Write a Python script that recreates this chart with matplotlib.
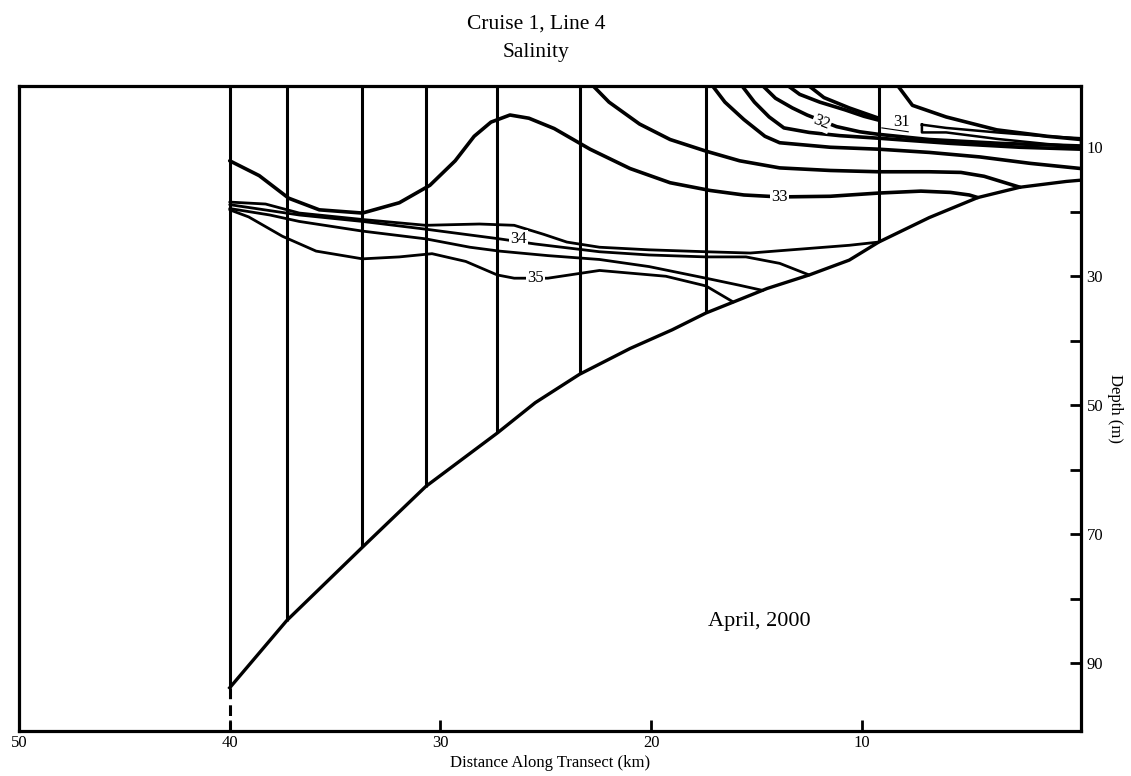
import numpy as np
import matplotlib.pyplot as plt

plt.rcParams.update({'font.family': 'Liberation Serif', 'font.size': 12})

# CTD casts along the line (km from shore)
station_km = [40.0, 37.3, 33.7, 30.7, 27.3, 23.4, 17.4, 9.2]

# bottom profile
bottom_km = [40.0, 37.3, 33.7, 30.7, 27.3, 25.5, 23.4, 21.0, 19.0, 17.4, 16.1,
             14.5, 12.5, 10.6, 9.2, 6.8, 4.5, 2.5, 0.3, -0.4]
bottom_m = [93.8, 83.4, 72.0, 62.6, 54.3, 49.6, 45.2, 41.2, 38.3, 35.7, 34.0,
            31.9, 29.8, 27.5, 24.7, 20.9, 17.8, 16.2, 15.3, 15.1]

# salinity isolines (km, depth m)
iso33_km = [40.0, 38.6, 37.2, 35.75, 33.7, 31.95, 30.5, 29.3, 28.4, 27.6, 26.7,
            25.8, 24.6, 22.9, 21.0, 19.1, 17.2, 15.6, 13.9, 11.5, 9.2, 7.2, 5.8,
            4.9, 4.5]
iso33_m = [12.1, 14.4, 17.9, 19.7, 20.2, 18.6, 15.9, 12.1, 8.3, 6.1, 5.0,
           5.5, 7.1, 10.3, 13.3, 15.5, 16.7, 17.4, 17.7, 17.6, 17.1, 16.8, 17.0,
           17.4, 17.8]

iso34a_km = [40.0, 38.3, 36.7, 33.7, 30.7, 28.15, 26.5, 25.1, 24.0, 22.45,
             20.1, 17.4, 15.3, 12.95, 10.6, 9.2]
iso34a_m = [18.5, 18.8, 20.2, 21.2, 22.1, 21.9, 22.1, 23.5, 24.7, 25.5,
            25.9, 26.2, 26.4, 25.8, 25.2, 24.7]

iso34b_km = [40.0, 36.7, 33.7, 30.7, 27.2, 25.5, 22.45, 20.1, 17.4, 15.5,
             13.9, 12.5]
iso34b_m = [18.9, 20.5, 21.5, 22.7, 24.2, 25.0, 26.2, 26.7, 27.0, 27.0,
            28.0, 29.8]

iso345_km = [40.0, 38.1, 36.7, 33.7, 30.7, 28.6, 27.2, 24.9, 22.45, 20.1,
             17.4, 15.8, 14.7]
iso345_m = [19.5, 20.5, 21.5, 23.0, 24.2, 25.5, 26.1, 26.8, 27.4, 28.5,
            30.3, 31.4, 32.2]

iso35_km = [40.0, 39.1, 37.5, 35.9, 33.7, 31.95, 30.4, 28.8, 27.3, 26.5,
            25.5, 24.9, 22.45, 19.3, 17.4, 16.1]
iso35_m = [19.7, 20.8, 23.8, 26.1, 27.3, 27.0, 26.5, 27.7, 29.8, 30.3,
           30.3, 30.3, 29.1, 30.0, 31.5, 34.0]

isoA_km = [22.9, 22.0, 20.55, 19.1, 17.4, 15.8, 13.9, 11.5, 9.2, 6.8, 5.3,
           4.2, 3.2, 2.5]
isoA_m = [0.0, 3.0, 6.4, 8.8, 10.6, 12.1, 13.2, 13.6, 13.8, 13.8, 13.9,
          14.5, 15.5, 16.2]

isoB_km = [17.2, 16.5, 15.6, 14.6, 13.9, 11.5, 9.2, 6.8, 4.4, 2.0, -0.4]
isoB_m = [0.0, 3.0, 5.7, 8.3, 9.3, 10.0, 10.3, 10.8, 11.5, 12.5, 13.3]

isoC_km = [15.8, 15.1, 14.4, 13.7, 12.5, 11.05, 9.2, 5.8, 2.5, -0.4]
isoC_m = [0.0, 3.0, 5.3, 7.0, 7.7, 8.2, 8.6, 9.4, 10.0, 10.3]

iso32_km = [14.85, 14.1, 13.3, 12.6, 11.2, 10.1, 9.2, 6.8, 3.4, -0.4]
iso32_m = [0.0, 2.4, 3.9, 5.0, 6.8, 7.6, 8.0, 8.8, 9.4, 9.8]

iso31a_km = [13.7, 12.95, 12.0, 10.8, 9.9, 9.2]
iso31a_m = [0.0, 1.8, 3.0, 4.2, 5.2, 5.8]
iso31b_km = [12.7, 11.8, 10.6, 9.2]
iso31b_m = [0.0, 2.3, 3.9, 5.5]

# closed 31 tongue near the coast
tongue_km = [7.15, 6.0, 3.6, 1.2, -0.4, -0.4, 1.2, 3.6, 6.0, 7.15, 7.15]
tongue_m = [6.5, 7.0, 7.7, 8.3, 8.6, 9.9, 9.5, 8.7, 7.7, 7.7, 6.5]

isoD_km = [8.4, 7.6, 6.0, 3.6, 1.2, -0.4]
isoD_m = [0.0, 3.5, 5.3, 7.3, 8.3, 8.8]

# contour labels: text, km, depth, rotation
labels = [('33', 13.9, 17.7, 0), ('34', 26.3, 24.2, 0),
          ('35', 25.5, 30.3, 0), ('32', 11.9, 6.1, -22)]

fig = plt.figure(figsize=(11.31, 7.76), dpi=100)
ax = fig.add_axes([0.0168, 0.058, 0.939, 0.8312])

bottom_at_station = np.interp(station_km, bottom_km[::-1], bottom_m[::-1])
ax.vlines(station_km, 0, bottom_at_station, color='k', lw=2.2)
ax.plot([station_km[0], station_km[0]], [bottom_at_station[0], 101],
        color='k', lw=2.2, ls=(0, (3.5, 2)))
ax.plot(bottom_km, bottom_m, color='k', lw=2.4)

thick = dict(color='k', lw=2.6, solid_capstyle='round', solid_joinstyle='round')
thin = dict(color='k', lw=2.0, solid_capstyle='round', solid_joinstyle='round')
for xs, ys in [(iso33_km, iso33_m), (isoA_km, isoA_m), (isoB_km, isoB_m),
               (isoC_km, isoC_m), (iso32_km, iso32_m), (isoD_km, isoD_m),
               (iso31a_km, iso31a_m), (iso31b_km, iso31b_m)]:
    ax.plot(xs, ys, **thick)
for xs, ys in [(iso34a_km, iso34a_m), (iso34b_km, iso34b_m),
               (iso345_km, iso345_m), (iso35_km, iso35_m)]:
    ax.plot(xs, ys, **thin)
ax.plot(tongue_km, tongue_m, color='k', lw=1.8)

for txt, x, y, rot in labels:
    ax.text(x, y, txt, ha='center', va='center', fontsize=12, rotation=rot,
            bbox=dict(fc='white', ec='none', pad=0.8), zorder=5)
ax.text(8.1, 6.1, '31', ha='center', va='center', fontsize=12,
        bbox=dict(fc='white', ec='none', pad=0.8), zorder=5)
ax.plot([9.05, 7.8], [7.0, 7.6], color='k', lw=0.8, zorder=6)

ax.text(14.85, 83.5, 'April, 2000', ha='center', va='center', fontsize=16)

ax.set_xlim(50, -0.4)
ax.set_ylim(100.5, 0.5)
ax.set_xticks([50, 40, 30, 20, 10])
ax.set_xticklabels(['50', '40', '30', '20', '10'])
ax.yaxis.tick_right()
ax.yaxis.set_label_position('right')
ax.set_yticks(range(10, 100, 10))
ax.set_yticklabels(['10', '', '30', '', '50', '', '70', '', '90'])
ax.tick_params(direction='in', length=8, width=2, labelsize=12)
ax.tick_params(axis='x', pad=3)
ax.tick_params(axis='y', pad=4)
for sp in ax.spines.values():
    sp.set_linewidth(2.3)

ax.set_xlabel('Distance Along Transect (km)', fontsize=12, labelpad=3)
ax.set_ylabel('Depth (m)', rotation=270, fontsize=12, labelpad=14)

fig.text(0.474, 1 - 24 / 776, 'Cruise 1, Line 4', ha='center', va='center',
         fontsize=15.5)
fig.text(0.474, 1 - 53 / 776, 'Salinity', ha='center', va='center',
         fontsize=15.5)

fig.savefig('out.png', dpi=100)
